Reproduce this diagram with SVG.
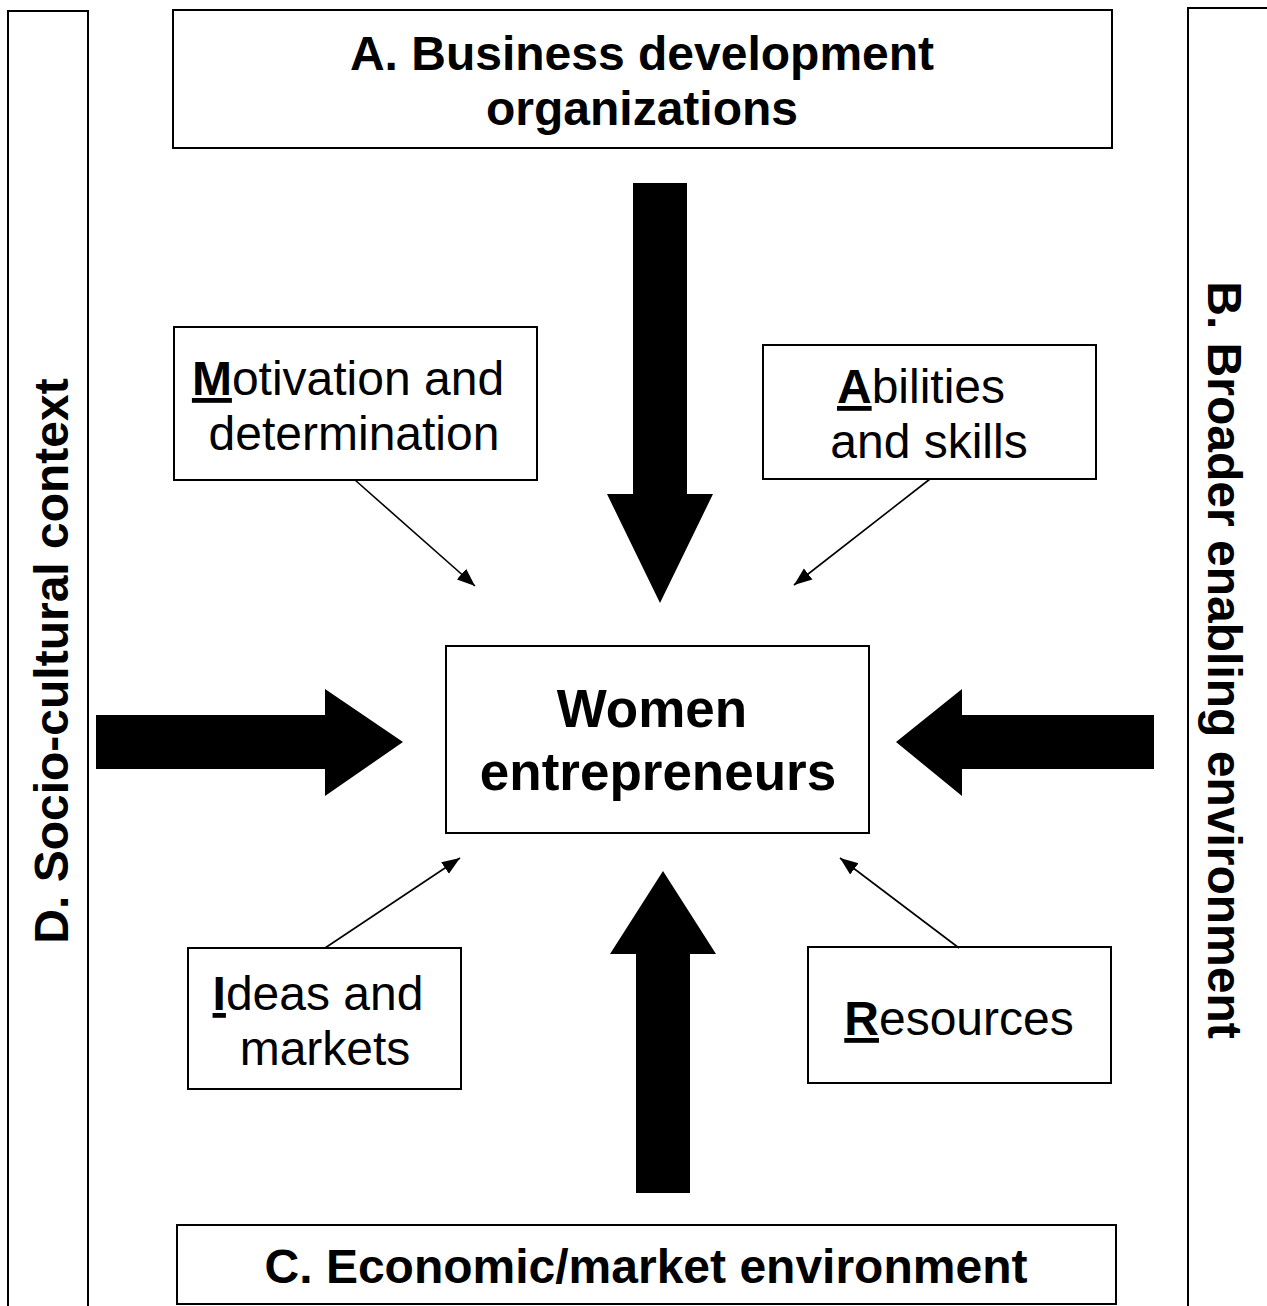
<svg xmlns="http://www.w3.org/2000/svg" width="1267" height="1306" viewBox="0 0 1267 1306">
<defs>
<style>
.box{fill:#fff;stroke:#000;stroke-width:2}
.b{font-family:"Liberation Sans",Arial,sans-serif;font-weight:bold;font-size:48px;fill:#000;text-anchor:middle}
.r{font-family:"Liberation Sans",Arial,sans-serif;font-size:48px;fill:#000;text-anchor:middle}
.u{font-weight:bold;text-decoration:underline}
.thin{stroke:#000;stroke-width:1.6;fill:none;marker-end:url(#ah)}
.big{fill:#000}
</style>
<marker id="ah" markerUnits="userSpaceOnUse" markerWidth="20" markerHeight="16" refX="18" refY="8" orient="auto">
<polygon points="0,1 18,8 0,15" fill="#000"/>
</marker>
</defs>
<rect width="1267" height="1306" fill="#fff"/>
<g id="panel-D">
<rect class="box" x="8" y="11" width="80" height="1310"/>
<text class="b" transform="translate(68,661) rotate(-90)">D. Socio-cultural context</text>
</g>
<g id="panel-B">
<rect class="box" x="1188" y="8" width="100" height="1310"/>
<text class="b" transform="translate(1208,660) rotate(90)">B. Broader enabling environment</text>
</g>
<g id="node-A">
<rect class="box" x="173" y="10" width="939" height="138"/>
<text class="b" x="642" y="70">A. Business development</text>
<text class="b" x="642" y="125">organizations</text>
</g>
<g id="node-C">
<rect class="box" x="177" y="1225" width="939" height="79"/>
<text class="b" x="646" y="1283">C. Economic/market environment</text>
</g>
<g id="node-women">
<rect class="box" x="446" y="646" width="423" height="187"/>
<text class="b" x="652" y="727" style="font-size:53px">Women</text>
<text class="b" x="658" y="790" style="font-size:53px">entrepreneurs</text>
</g>
<g id="node-motivation">
<rect class="box" x="174" y="327" width="363" height="153"/>
<text class="r" x="348" y="395"><tspan class="u">M</tspan>otivation and</text>
<text class="r" x="354" y="450">determination</text>
</g>
<g id="node-abilities">
<rect class="box" x="763" y="345" width="333" height="134"/>
<text class="r" x="921" y="403"><tspan class="u">A</tspan>bilities</text>
<text class="r" x="929" y="458">and skills</text>
</g>
<g id="node-ideas">
<rect class="box" x="188" y="948" width="273" height="141"/>
<text class="r" x="318" y="1010"><tspan class="u">I</tspan>deas and</text>
<text class="r" x="325" y="1065">markets</text>
</g>
<g id="node-resources">
<rect class="box" x="808" y="947" width="303" height="136"/>
<text class="r" x="959" y="1035"><tspan class="u">R</tspan>esources</text>
</g>
<g id="connectors">
<polygon class="big" points="633,183 687,183 687,494 713,494 660,603 607,494 633,494"/>
<polygon class="big" points="636,1193 690,1193 690,954 716,954 663,871 610,954 636,954"/>
<polygon class="big" points="96,715 325,715 325,689 403,742 325,796 325,769 96,769"/>
<polygon class="big" points="1154,715 962,715 962,689 896,742 962,796 962,769 1154,769"/>
<line class="thin" x1="355" y1="480" x2="475" y2="586"/>
<line class="thin" x1="930" y1="479" x2="794" y2="585"/>
<line class="thin" x1="325" y1="948" x2="460" y2="858"/>
<line class="thin" x1="959" y1="948" x2="840" y2="858"/>
</g>
</svg>
